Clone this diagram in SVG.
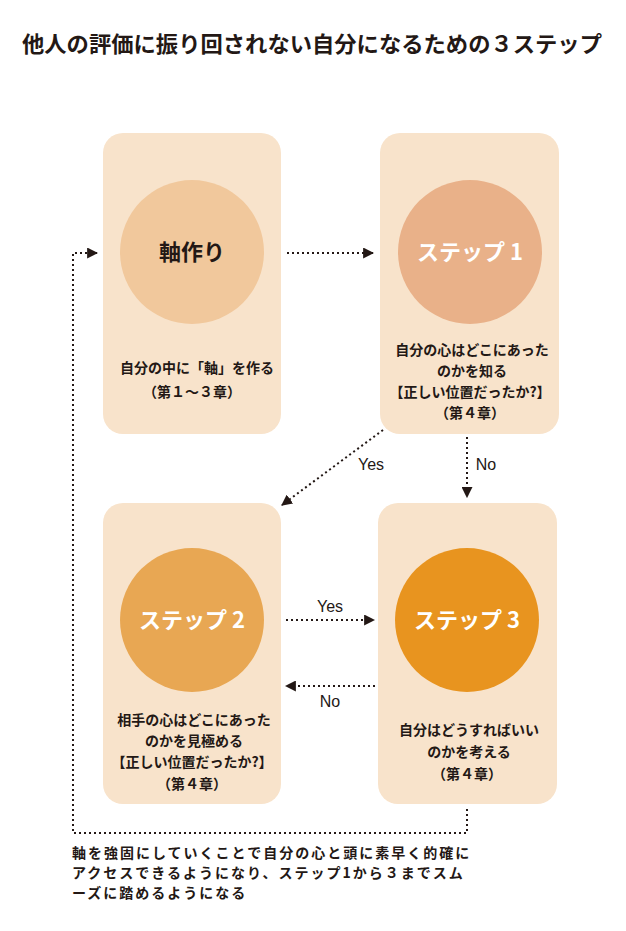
<svg xmlns="http://www.w3.org/2000/svg" width="626" height="931" viewBox="0 0 626 931">
<style>
.jp{font-family:"Noto Sans CJK JP","Noto Sans",sans-serif;font-weight:bold;fill:#231815}
.box{fill:#f8e3cb}
.title{font-size:22px}
.circ{font-size:22px;text-anchor:middle}
.w{fill:#ffffff}
.desc{font-size:14px;text-anchor:middle}
.lbl{font-family:"Liberation Sans",Arial,sans-serif;font-size:16px;fill:#231815;text-anchor:middle}
.con{fill:none;stroke:#231815;stroke-width:2;stroke-dasharray:2 3}
.foot{font-size:14px;letter-spacing:2px}
</style>
<defs>
<marker id="ah" viewBox="0 0 10 10" refX="9" refY="5" markerWidth="11" markerHeight="11" markerUnits="userSpaceOnUse" orient="auto">
<path d="M0,0 L10,5 L0,10 Z" fill="#231815"/>
</marker>
</defs>
<rect width="626" height="931" fill="#ffffff"/>
<text class="jp title" x="22" y="52" textLength="580" lengthAdjust="spacingAndGlyphs">他人の評価に振り回されない自分になるための３ステップ</text>

<g id="node-axis">
<rect class="box" x="103" y="133" width="178" height="301" rx="20"/>
<circle cx="192" cy="252" r="72" fill="#f1c89c"/>
<text class="jp circ" x="192" y="260">軸作り</text>
<text class="jp desc" x="197" y="373">自分の中に「軸」を作る</text>
<text class="jp desc" x="192" y="397">（第１～３章）</text>
</g>

<g id="node-step1">
<rect class="box" x="380" y="133" width="179" height="301" rx="20"/>
<circle cx="470" cy="252" r="72" fill="#e9b189"/>
<text class="jp circ w" x="470" y="260">ステップ 1</text>
<text class="jp desc" x="472" y="355">自分の心はどこにあった</text>
<text class="jp desc" x="472" y="376">のかを知る</text>
<text class="jp desc" x="470" y="397">【正しい位置だったか?】</text>
<text class="jp desc" x="470" y="418">（第４章）</text>
</g>

<g id="node-step2">
<rect class="box" x="103" y="503" width="178" height="301" rx="20"/>
<circle cx="192" cy="620" r="72" fill="#e8a753"/>
<text class="jp circ w" x="192" y="628">ステップ 2</text>
<text class="jp desc" x="194" y="725">相手の心はどこにあった</text>
<text class="jp desc" x="194" y="746">のかを見極める</text>
<text class="jp desc" x="192" y="767">【正しい位置だったか?】</text>
<text class="jp desc" x="192" y="789">（第４章）</text>
</g>

<g id="node-step3">
<rect class="box" x="378" y="503" width="179" height="301" rx="20"/>
<circle cx="467" cy="620" r="72" fill="#e8941f"/>
<text class="jp circ w" x="467" y="628">ステップ 3</text>
<text class="jp desc" x="469" y="735">自分はどうすればいい</text>
<text class="jp desc" x="469" y="757">のかを考える</text>
<text class="jp desc" x="467" y="779">（第４章）</text>
</g>

<g id="connectors">
<line class="con" x1="287" y1="253" x2="373" y2="253" marker-end="url(#ah)"/>
<line class="con" x1="383" y1="430" x2="282" y2="505" marker-end="url(#ah)"/>
<line class="con" x1="467" y1="437" x2="467" y2="497" marker-end="url(#ah)"/>
<line class="con" x1="286" y1="620" x2="374" y2="620" marker-end="url(#ah)"/>
<line class="con" x1="375" y1="686" x2="286" y2="686" marker-end="url(#ah)"/>
<polyline class="con" points="467,809 467,833 73,833 73,253 97,253" marker-end="url(#ah)"/>
<text class="lbl" x="371" y="470">Yes</text>
<text class="lbl" x="486" y="470">No</text>
<text class="lbl" x="330" y="612">Yes</text>
<text class="lbl" x="330" y="707">No</text>
</g>

<g id="footnote">
<text class="jp foot" x="72" y="858">軸を強固にしていくことで自分の心と頭に素早く的確に</text>
<text class="jp foot" x="72" y="878">アクセスできるようになり、ステップ1から３までスム</text>
<text class="jp foot" x="72" y="898">ーズに踏めるようになる</text>
</g>
</svg>
